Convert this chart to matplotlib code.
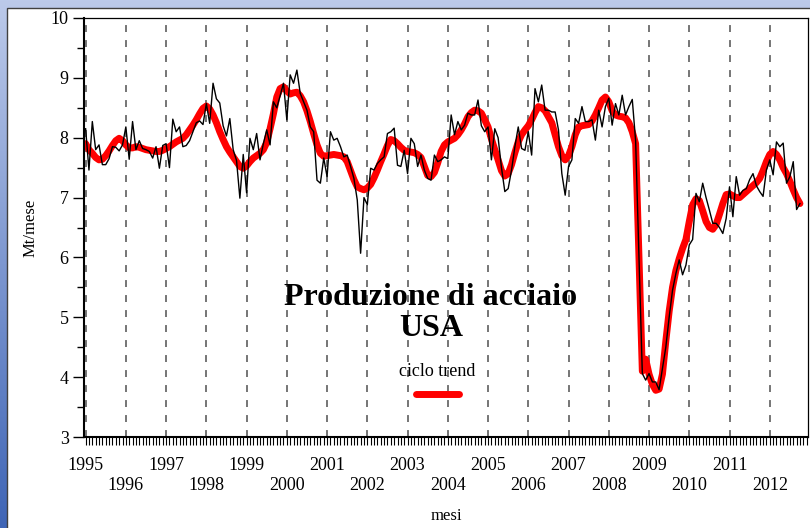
import numpy as np
import matplotlib
matplotlib.use("Agg")
import matplotlib.pyplot as plt
from matplotlib.patches import Rectangle
from matplotlib.colors import LinearSegmentedColormap

plt.rcParams['font.family'] = ['Liberation Serif', 'DejaVu Serif']
plt.rcParams['lines.scale_dashes'] = False

# ---------------- data (monthly, Jan 1995 - Oct 2012) ----------------
start_year = 1995
years = list(range(1995, 2013))

produzione = [
    8.15, 7.46, 8.27, 7.80, 7.88, 7.55, 7.55, 7.65, 7.85, 7.84, 7.78, 7.88,   # 1995
    8.18, 7.64, 8.27, 7.80, 7.95, 7.82, 7.80, 7.77, 7.66, 7.85, 7.49, 7.87,   # 1996
    7.90, 7.50, 8.31, 8.10, 8.18, 7.85, 7.87, 7.95, 8.10, 8.25, 8.28, 8.22,   # 1997
    8.57, 8.24, 8.91, 8.65, 8.58, 8.20, 8.03, 8.32, 7.80, 7.62, 6.99, 7.72,   # 1998
    7.08, 7.99, 7.80, 8.07, 7.63, 7.90, 8.13, 7.88, 8.60, 8.50, 8.70, 8.91,   # 1999
    8.30, 9.05, 8.91, 9.13, 8.74, 8.60, 8.46, 8.18, 8.10, 7.29, 7.24, 7.66,   # 2000
    7.35, 8.10, 7.96, 7.99, 7.85, 7.68, 7.71, 7.52, 7.32, 6.96, 6.07, 7.00,   # 2001
    6.88, 7.49, 7.46, 7.57, 7.63, 7.68, 8.07, 8.10, 8.16, 7.54, 7.52, 7.79,   # 2002
    7.40, 7.99, 7.90, 7.52, 7.71, 7.46, 7.32, 7.29, 7.71, 7.60, 7.63, 7.68,   # 2003
    7.65, 8.38, 8.05, 8.27, 8.13, 8.21, 8.41, 8.38, 8.38, 8.63, 8.20, 8.10,   # 2004
    8.18, 7.63, 8.15, 8.00, 7.50, 7.10, 7.15, 7.46, 7.85, 8.18, 7.82, 7.79,   # 2005
    8.10, 7.71, 8.82, 8.60, 8.88, 8.46, 8.46, 8.43, 8.43, 8.13, 7.40, 7.04,   # 2006
    7.52, 7.63, 8.32, 8.24, 8.52, 8.27, 8.27, 8.30, 7.96, 8.46, 8.18, 8.52,   # 2007
    8.66, 8.21, 8.57, 8.38, 8.71, 8.38, 8.52, 8.64, 7.95, 6.00, 4.06, 3.95,   # 2008
    4.06, 3.92, 3.92, 3.79, 4.15, 4.50, 5.00, 5.45, 5.73, 5.96, 5.71, 5.87,   # 2009
    6.21, 6.30, 7.07, 6.93, 7.24, 7.00, 6.79, 6.57, 6.57, 6.50, 6.40, 6.65,   # 2010
    7.18, 6.68, 7.35, 7.04, 7.12, 7.15, 7.30, 7.40, 7.20, 7.10, 7.02, 7.46,   # 2011
    7.63, 7.38, 7.93, 7.85, 7.91, 7.24, 7.35, 7.60, 6.80, 6.90,               # 2012
]

ciclo_trend = [
    7.90, 7.80, 7.74, 7.67, 7.63, 7.64, 7.70, 7.78, 7.87, 7.95, 7.99, 7.95,   # 1995
    7.88, 7.83, 7.83, 7.85, 7.84, 7.82, 7.80, 7.79, 7.78, 7.77, 7.77, 7.79,   # 1996
    7.82, 7.85, 7.89, 7.93, 7.96, 7.99, 8.05, 8.13, 8.21, 8.30, 8.40, 8.49,   # 1997
    8.53, 8.48, 8.38, 8.25, 8.10, 7.97, 7.85, 7.76, 7.68, 7.60, 7.52, 7.49,   # 1998
    7.53, 7.60, 7.66, 7.70, 7.74, 7.80, 7.92, 8.15, 8.40, 8.68, 8.82, 8.85,   # 1999
    8.78, 8.73, 8.75, 8.76, 8.70, 8.60, 8.45, 8.27, 8.07, 7.88, 7.74, 7.69,   # 2000
    7.70, 7.71, 7.72, 7.71, 7.70, 7.68, 7.60, 7.45, 7.30, 7.18, 7.15, 7.13,   # 2001
    7.16, 7.22, 7.33, 7.46, 7.60, 7.73, 7.87, 7.97, 7.95, 7.90, 7.84, 7.79,   # 2002
    7.77, 7.76, 7.75, 7.72, 7.67, 7.52, 7.37, 7.35, 7.42, 7.58, 7.77, 7.88,   # 2003
    7.93, 7.96, 7.99, 8.05, 8.13, 8.23, 8.35, 8.42, 8.46, 8.45, 8.41, 8.30,   # 2004
    8.18, 7.98, 7.80, 7.63, 7.45, 7.36, 7.40, 7.55, 7.75, 7.93, 8.05, 8.13,   # 2005
    8.20, 8.30, 8.42, 8.52, 8.50, 8.45, 8.35, 8.25, 8.05, 7.85, 7.70, 7.63,   # 2006
    7.70, 7.85, 8.05, 8.18, 8.20, 8.21, 8.22, 8.28, 8.38, 8.50, 8.63, 8.68,   # 2007
    8.60, 8.45, 8.38, 8.36, 8.35, 8.33, 8.25, 8.10, 7.90, 6.00, 4.10, 4.30,   # 2008
    4.05, 3.88, 3.78, 3.80, 4.05, 4.60, 5.10, 5.50, 5.78, 5.98, 6.15, 6.30,   # 2009
    6.60, 6.88, 6.98, 6.95, 6.78, 6.60, 6.50, 6.47, 6.55, 6.72, 6.90, 7.05,   # 2010
    7.06, 7.03, 7.00, 7.00, 7.05, 7.10, 7.15, 7.20, 7.25, 7.32, 7.45, 7.60,   # 2011
    7.72, 7.77, 7.72, 7.63, 7.50, 7.40, 7.27, 7.13, 7.00, 6.90,               # 2012
]

title_text = "Produzione di acciaio\nUSA"
legend_label = "ciclo trend"
y_label = "Mt/mese"
x_label = "mesi"

# ---------------- figure ----------------
W, H = 810, 528
fig = plt.figure(figsize=(W / 100, H / 100), dpi=100)

# blue gradient background with white panel
bg = fig.add_axes([0, 0, 1, 1])
bg.set_xlim(0, 1)
bg.set_ylim(0, 1)
bg.axis('off')
cmap = LinearSegmentedColormap.from_list('bgblue', ['#3f65b6', '#7d97d0', '#bccaea'])
grad = np.linspace(0, 1, 256).reshape(-1, 1)
bg.imshow(grad, extent=[0, 1, 0, 1], origin='lower', aspect='auto', cmap=cmap, zorder=0)
bg.add_patch(Rectangle((7 / W, -0.01), 1.0, (H - 8) / H + 0.01, facecolor='white',
                       edgecolor='#404040', linewidth=1.0, zorder=1))

ax = fig.add_axes([84 / W, (H - 437) / H, (808 - 84) / W, (437 - 18) / H])
ax.set_facecolor('white')

t = start_year + np.arange(len(produzione)) / 12.0
t_trend = start_year + np.arange(len(ciclo_trend)) / 12.0

for y in years:
    ax.axvline(y, color='#505050', linewidth=1.1, dashes=(5.0, 5.8), zorder=1)

red_line, = ax.plot(t_trend, ciclo_trend, color='#ff0000', linewidth=5.0,
                    solid_capstyle='round', solid_joinstyle='round', zorder=2)
ax.plot(t, produzione, color='black', linewidth=1.0, zorder=3)

ax.set_xlim(1994.96, 2012.95)
ax.set_ylim(3, 10)

ax.set_yticks(range(3, 11))
ax.set_yticks(np.arange(3.5, 10, 1.0), minor=True)
ax.set_xticks(years)
ax.set_xticklabels([str(y) if i % 2 == 0 else '\n' + str(y) for i, y in enumerate(years)])
ax.set_xticks(start_year + np.arange(0, 12 * 18) / 12.0, minor=True)

ax.tick_params(axis='y', which='major', direction='out', length=8, width=1.0,
               labelsize=13, pad=3)
ax.tick_params(axis='y', which='minor', direction='out', length=5, width=1.0)
ax.tick_params(axis='x', which='both', direction='out', length=6, width=0.8,
               labelsize=13, pad=8.5)
for lab in ax.get_xticklabels():
    lab.set_linespacing(1.25)

for side in ['top', 'right']:
    ax.spines[side].set_linewidth(0.9)
for side in ['left', 'bottom']:
    ax.spines[side].set_linewidth(1.5)

ax.set_ylabel(y_label, fontsize=12, labelpad=9)
ax.set_xlabel(x_label, fontsize=12, labelpad=10)

ax.text(0.479, 0.296, title_text, transform=ax.transAxes, ha='center', va='center',
        fontsize=23, fontweight='bold', linespacing=1.06, zorder=5)

leg = ax.legend([red_line], [''], title=legend_label, frameon=False, loc='center',
                bbox_to_anchor=(0.488, 0.128), handlelength=2.4, fontsize=13,
                title_fontsize=13, handletextpad=0.0, borderpad=0.2, labelspacing=0.42)

fig.savefig('out.png', dpi=100)
